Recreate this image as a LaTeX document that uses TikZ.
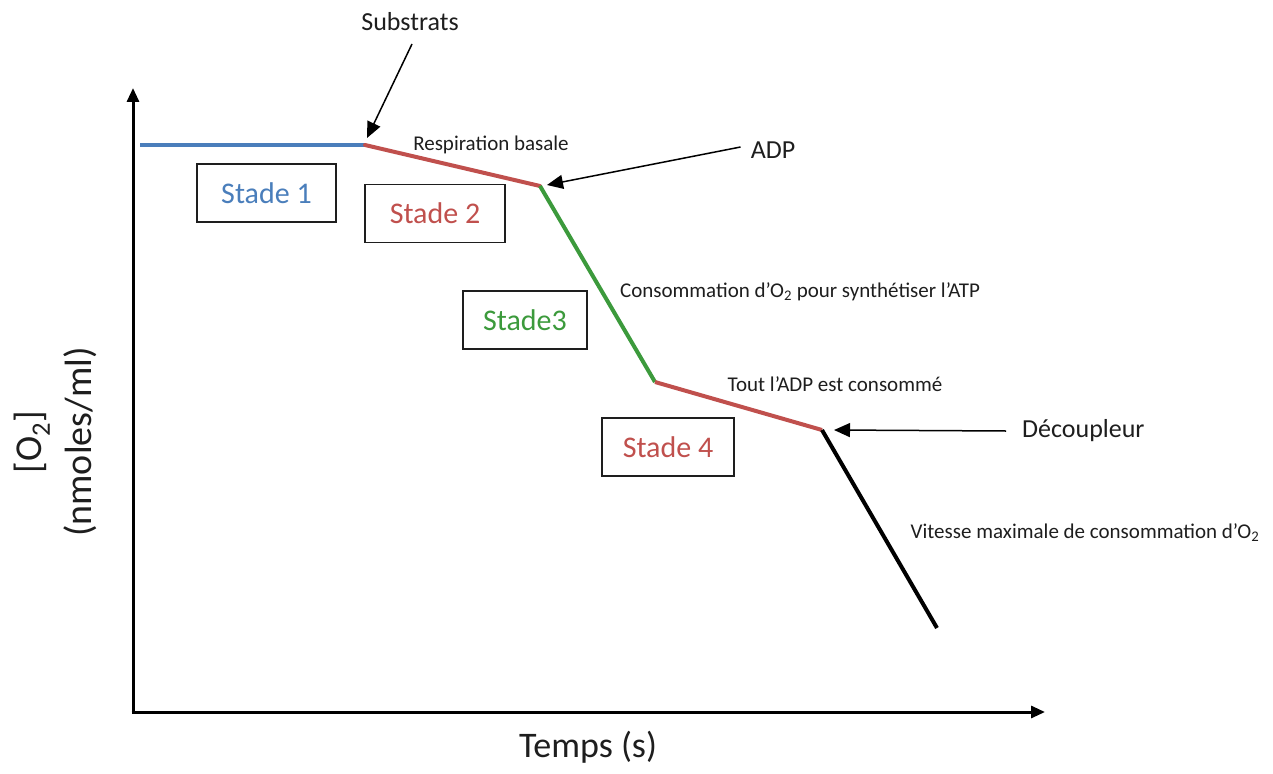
\documentclass[tikz,border=0pt]{standalone}
\usepackage{fontspec}
\setmainfont{Carlito}
\usetikzlibrary{arrows.meta}
\definecolor{cblue}{RGB}{74,126,187}
\definecolor{cred}{RGB}{192,80,77}
\definecolor{cgreen}{RGB}{60,154,60}
\definecolor{ctxt}{RGB}{30,30,30}
\tikzset{
  axis/.style={line width=3pt,-{Triangle[length=14pt,width=12pt]}},
  curve/.style={line width=4pt},
  stagebox/.style={draw=ctxt,line width=1.5pt,minimum width=#1,minimum height=58pt,inner sep=0pt,font=\fontsize{30}{30}\selectfont},
  callout/.style={line width=1.5pt,-{Triangle[length=16pt,width=14pt]}},
  lbl/.style={font=\fontsize{26}{26}\selectfont,text=ctxt,inner sep=2pt},
  small/.style={font=\fontsize{21}{21}\selectfont,text=ctxt,inner sep=1pt},
}
\begin{document}
\begin{tikzpicture}[x=1pt,y=-1pt]
\useasboundingbox (0,0) rectangle (1273,773);
% axes
\coordinate (origin) at (133,712);
\coordinate (ytip) at (133,88);
\coordinate (xtip) at (1045,712);
\draw[axis] (origin) -- (ytip);
\draw[axis] ([xshift=-1.5pt]origin) -- (xtip);
% curve points
\coordinate (p0) at (140,145);
\coordinate (p1) at (365,145);
\coordinate (p2) at (540,186);
\coordinate (p3) at (655,382);
\coordinate (p4) at (822,430);
\coordinate (p5) at (937,628);
\draw[curve,cblue] (p0) -- (p1);
\draw[curve,cred,line cap=round] (p1) -- (p2);
\draw[curve,cgreen] (p2) -- (p3);
\draw[curve,cred] (p3) -- (p4);
\draw[curve,black] (p4) -- (p5);
% stage boxes
\node[stagebox=139pt,text=cblue] (s1) at (266.5,193) {Stade 1};
\node[stagebox=140pt,text=cred] (s2) at (435,213.5) {Stade 2};
\node[stagebox=124pt,text=cgreen] (s3) at (525,320) {Stade3};
\node[stagebox=132pt,text=cred] (s4) at (668,447) {Stade 4};
% callouts
\node[lbl] (sub) at (410,22) {Substrats};
\coordinate (subA) at (367,138);
\draw[callout] (412,44) -- (subA);
\node[lbl] (adp) at (773,150) {ADP};
\coordinate (adpA) at (547,185);
\draw[callout] (adp.west) ++(-8pt,3pt) -- (adpA);
\node[lbl,anchor=west] (dec) at (1020,431) {Découpleur};
\coordinate (decA) at (834,430);
\draw[callout] ([xshift=-14pt]dec.west) -- (decA);
% annotations
\node[small] (resp) at (491,145) {Respiration basale};
\node[small] (cons) at (800,292) {Consommation d’O\textsubscript{2} pour synthétiser l’ATP};
\node[small] (tout) at (835,384) {Tout l’ADP est consommé};
\node[small] (vit) at (1085,533) {Vitesse maximale de consommation d’O\textsubscript{2}};
% axis labels
\node[font=\fontsize{36}{36}\selectfont,text=ctxt] (xl) at (588,747) {Temps (s)};
\node[font=\fontsize{38}{50}\selectfont,text=ctxt,rotate=90,align=center] (yl) at (55,442) {[O\textsubscript{2}]\\(nmoles/ml)};
\end{tikzpicture}
\end{document}
